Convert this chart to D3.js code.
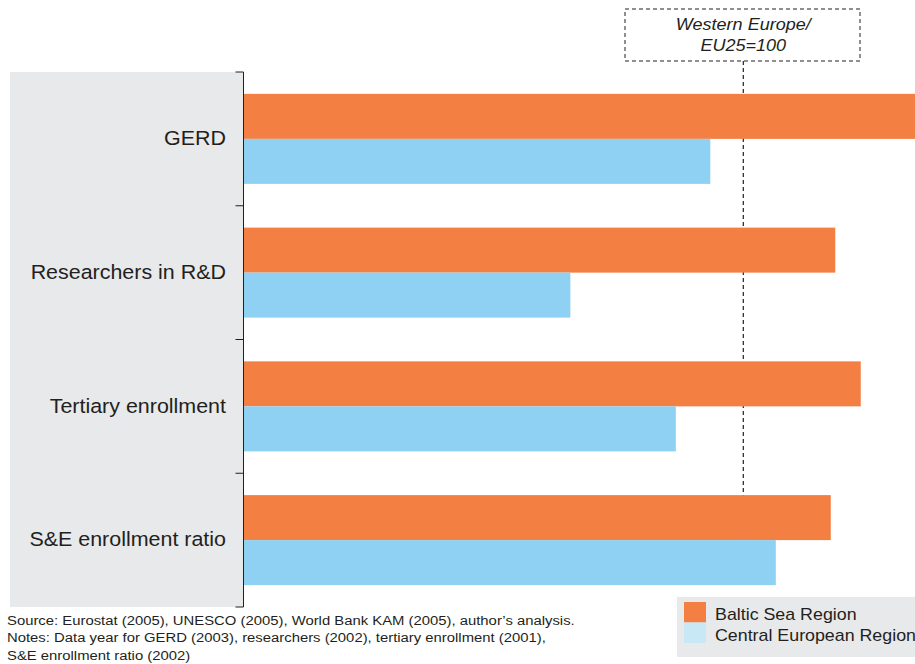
<!DOCTYPE html>
<html><head><meta charset="utf-8">
<script src="https://cdn.jsdelivr.net/npm/d3@7"></script>
<style>
html,body{margin:0;padding:0;background:#fff;overflow:hidden}
svg{display:block;font-family:"Liberation Sans",Arial,sans-serif}
</style></head>
<body><svg id="c" width="915" height="664"></svg>
<script>
const categories = ["GERD", "Researchers in R&D", "Tertiary enrollment", "S&E enrollment ratio"];
const seriesNames = ["Baltic Sea Region", "Central European Region"];
const balticValues = [140, 118.4, 123.5, 117.5];
const centralValues = [93.4, 65.4, 86.5, 106.5];
const referenceValue = 100;
const referenceLabel = ["Western Europe/", "EU25=100"];
const notes = [
  "Source: Eurostat (2005), UNESCO (2005), World Bank KAM (2005), author\u2019s analysis.",
  "Notes: Data year for GERD (2003), researchers (2002), tertiary enrollment (2001),",
  "S&E enrollment ratio (2002)"
];

const svg = d3.select("#c");
const SX = 1.1; // horizontal text stretch
const x0 = 243.5, plotTop = 72, plotBottom = 607;
const x = d3.scaleLinear().domain([0, 100]).range([x0, 743.3]);
const y = d3.scaleBand().domain(categories).range([plotTop, plotBottom]).paddingInner(0.327).paddingOuter(0.1635);
const ySub = d3.scaleBand().domain(seriesNames).range([0, y.bandwidth()]);
const colors = ["#f37f43", "#8fd1f2"];
const legendColors = ["#f37f43", "#c8e8f5"];

function addText(sel, tx, ty, str, opts) {
  const t = sel.append("text")
    .attr("transform", `translate(${tx},${ty}) scale(${SX},1)`)
    .attr("font-size", opts.size).attr("fill", "#231f20")
    .attr("text-anchor", opts.anchor || "start").text(str);
  if (opts.italic) t.attr("font-style", "italic");
  return t;
}

// gray label panel
svg.append("rect").attr("x", 10).attr("y", plotTop).attr("width", x0 - 10).attr("height", plotBottom - plotTop).attr("fill", "#e8e9eb");

// reference box
const bx = 625, by = 9, bw = 235, bh = 52;
svg.append("rect").attr("x", bx).attr("y", by).attr("width", bw).attr("height", bh)
  .attr("fill", "#fff").attr("stroke", "#231f20").attr("stroke-width", 1).attr("stroke-dasharray", "4,3");
referenceLabel.forEach((t, i) => {
  addText(svg, x(referenceValue), 30 + i * 21, t, {size: 16.4, anchor: "middle", italic: true});
});
// reference line (behind bars)
svg.append("line").attr("x1", x(referenceValue)).attr("x2", x(referenceValue))
  .attr("y1", by + bh).attr("y2", y(categories[3]) + y.bandwidth() / 2)
  .attr("stroke", "#231f20").attr("stroke-width", 1.2).attr("stroke-dasharray", "4,3");

// bars
const data = categories.map((c, i) => ({cat: c, vals: [balticValues[i], centralValues[i]]}));
const g = svg.selectAll("g.cat").data(data).join("g").attr("class", "cat")
  .attr("transform", d => `translate(0,${y(d.cat)})`);
g.selectAll("rect").data(d => d.vals.map((v, j) => ({v, s: seriesNames[j], j})))
  .join("rect")
  .attr("x", x(0)).attr("y", d => ySub(d.s)).attr("height", ySub.bandwidth())
  .attr("width", d => x(d.v) - x(0)).attr("fill", d => colors[d.j]);

// axis
const ax = svg.append("g").attr("transform", `translate(${x0},0)`)
  .call(d3.axisLeft(y).tickSize(0).tickPadding(17));
ax.select(".domain").remove();
ax.selectAll("text").attr("font-size", 19.5).attr("fill", "#231f20")
  .attr("font-family", "Liberation Sans, Arial, sans-serif")
  .attr("x", -17.5 / SX).attr("transform", `scale(${SX},1)`);
const boundaries = d3.range(categories.length + 1).map(i => plotTop + i * (plotBottom - plotTop) / categories.length);
svg.append("line").attr("x1", x0).attr("x2", x0).attr("y1", plotTop).attr("y2", plotBottom).attr("stroke", "#231f20").attr("stroke-width", 1);
svg.selectAll("line.tk").data(boundaries).join("line").attr("class", "tk")
  .attr("x1", x0 - 8).attr("x2", x0).attr("y1", d => d).attr("y2", d => d)
  .attr("stroke", "#231f20").attr("stroke-width", 1);

// notes
notes.forEach((t, i) => {
  addText(svg, 7, 624.5 + i * 17.5, t, {size: 13.5});
});

// legend
svg.append("rect").attr("x", 677).attr("y", 597).attr("width", 245).attr("height", 60).attr("fill", "#e8e9eb");
seriesNames.forEach((s, i) => {
  svg.append("rect").attr("x", 684).attr("y", 602 + i * 20.5).attr("width", 22).attr("height", 20.5).attr("fill", legendColors[i]);
  addText(svg, 715, 619.5 + i * 21, s, {size: 16.2});
});
</script></body></html>
